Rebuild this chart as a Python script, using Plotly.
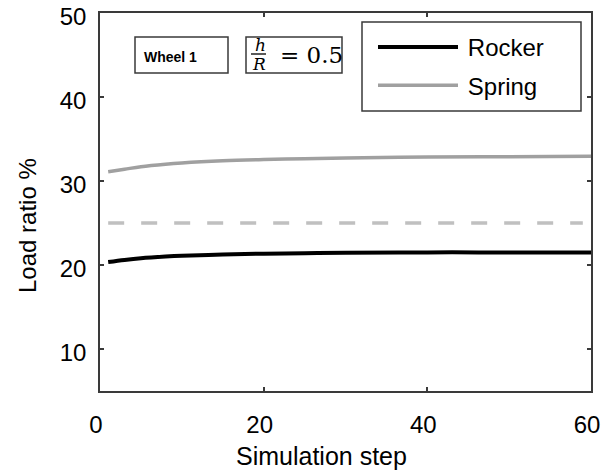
import plotly.graph_objects as go

steps = [1, 3, 5, 8, 10, 15, 20, 25, 30, 40, 50, 60]
rocker = [20.35, 20.6, 20.8, 21.0, 21.1, 21.25, 21.35, 21.4, 21.45, 21.5, 21.5, 21.5]
spring = [31.1, 31.4, 31.7, 32.0, 32.15, 32.4, 32.55, 32.65, 32.75, 32.85, 32.9, 32.95]
ref_steps = [1, 59]
ref_value = [25, 25]
x_ticks = [0, 20, 40, 60]
y_ticks = [10, 20, 30, 40, 50]

FONT = "Liberation Sans, Arial, sans-serif"
SERIF = "DejaVu Serif, Liberation Serif, serif"
AX = "#3a3a3a"
TXT = "#000000"

# plot-area geometry (px) used to place boxes/annotations
L, R, T, B = 100, 591, 13, 391
W, H = 603, 473
PW, PH = R - L, B - T


def px(xp):
    return (xp - L) / PW


def py(yp):
    return (B - yp) / PH


fig = go.Figure()
fig.add_trace(go.Scatter(x=steps, y=rocker, mode="lines", name="\u2009Rocker",
                         line=dict(color="black", width=4, shape="spline"),
                         legendgroup="a"))
fig.add_trace(go.Scatter(x=steps, y=spring, mode="lines", name="\u2009Spring",
                         line=dict(color="#a0a0a0", width=3.5, shape="spline"),
                         legendgroup="b"))
fig.add_trace(go.Scatter(x=ref_steps, y=ref_value, mode="lines", showlegend=False,
                         line=dict(color="#c0c0c0", width=3.5, dash="16px,17px")))

axis_common = dict(showline=True, linecolor=AX, linewidth=1.5, mirror="ticks",
                   ticks="inside", ticklen=4, tickcolor=AX, tickwidth=1.5,
                   showgrid=False, zeroline=False, automargin=False,
                   ticklabeloverflow="allow",
                   tickfont=dict(family=FONT, size=24, color=TXT))

fig.update_xaxes(range=[0, 60], tickvals=x_ticks, ticklabelstandoff=11,
                 ticklabelshift=-4, **axis_common)
fig.update_yaxes(range=[5, 50], tickvals=y_ticks, ticklabelstandoff=7,
                 ticklabelshift=4, **axis_common)

ann = dict(xref="paper", yref="paper", showarrow=False, xanchor="center", yanchor="middle")

# "Wheel 1" box
fig.add_shape(type="rect", xref="paper", yref="paper", x0=px(135), x1=px(228),
              y0=py(73), y1=py(37), line=dict(color=AX, width=1.5), fillcolor="white")
fig.add_annotation(x=px(170), y=py(57), text="<b>Wheel 1</b>",
                   font=dict(family=FONT, size=14, color=TXT), **ann)

# h/R = 0.5 box
fig.add_shape(type="rect", xref="paper", yref="paper", x0=px(246), x1=px(342),
              y0=py(73), y1=py(37), line=dict(color=AX, width=1.5), fillcolor="white")
fig.add_annotation(x=px(260), y=py(45), text="<i>h</i>",
                   font=dict(family=SERIF, size=17, color=TXT), **ann)
fig.add_shape(type="line", xref="paper", yref="paper", x0=px(251), x1=px(266),
              y0=py(54), y1=py(54), line=dict(color=TXT, width=1.3))
fig.add_annotation(x=px(259), y=py(64), text="<i>R</i>",
                   font=dict(family=SERIF, size=17, color=TXT), **ann)
fig.add_annotation(x=px(311), y=py(55), text="= 0.5",
                   font=dict(family=SERIF, size=23, color=TXT), **ann)

# legend frame
fig.add_shape(type="rect", xref="paper", yref="paper", x0=px(362), x1=px(581),
              y0=py(111), y1=py(22), line=dict(color=AX, width=1.5), fillcolor="white")

# axis titles
fig.add_annotation(x=px(321), y=py(456), text="Simulation step",
                   font=dict(family=FONT, size=25, color=TXT), **ann)
fig.add_annotation(x=px(27), y=py(226), text="Load ratio %", textangle=-90,
                   font=dict(family=FONT, size=24, color=TXT), **ann)

fig.update_layout(
    width=W, height=H,
    margin=dict(l=L, r=W - R, t=T, b=H - B, autoexpand=False),
    paper_bgcolor="white", plot_bgcolor="white",
    showlegend=True,
    legend=dict(x=px(373), y=py(25), xanchor="left", yanchor="top",
                borderwidth=0, bgcolor="rgba(0,0,0,0)",
                font=dict(family=FONT, size=24, color=TXT),
                tracegroupgap=4, itemwidth=80),
)

fig.write_html("out.html")
